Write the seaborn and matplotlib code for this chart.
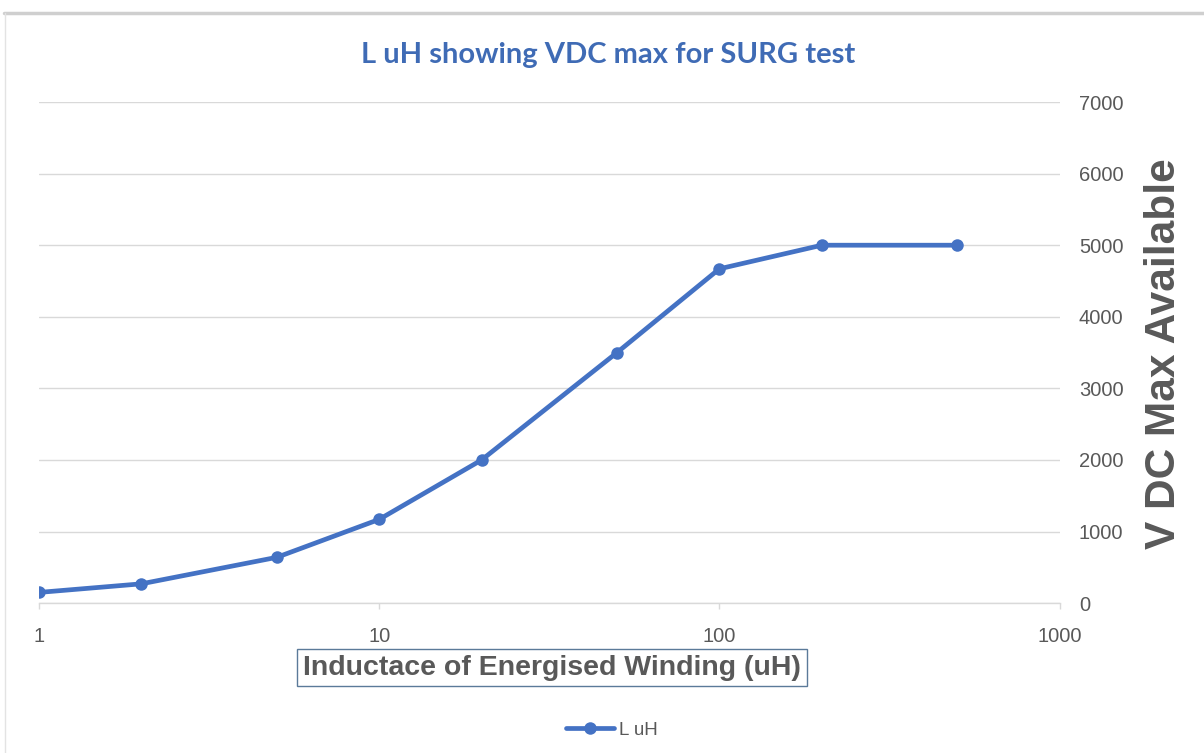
import matplotlib
matplotlib.use("Agg")
import matplotlib.pyplot as plt
from matplotlib.lines import Line2D
import seaborn as sns
import pandas as pd

# Inductance of the energised winding (uH) and the max VDC available
inductance_uh = [1, 2, 5, 10, 20, 50, 100, 200, 500]
vdc_max = [150, 270, 640, 1170, 2000, 3500, 4670, 5000, 5000]
y_ticks = [0, 1000, 2000, 3000, 4000, 5000, 6000, 7000]
x_ticks = [1, 10, 100, 1000]
x_tick_labels = ["1", "10", "100", "1000"]
series_name = "L uH"

df = pd.DataFrame({"L": inductance_uh, "V": vdc_max})

sns.set_theme(style="white")
plt.rcParams["font.family"] = ["Liberation Sans", "DejaVu Sans"]

LINE_BLUE = "#4472C4"
GRID = "#d9d9d9"
TEXT_GREY = "#595959"

fig = plt.figure(figsize=(12.04, 7.53), dpi=100)
ax = fig.add_axes([0.0324, 0.199, 0.8476, 0.6655])

sns.lineplot(data=df, x="L", y="V", ax=ax, color=LINE_BLUE, linewidth=3.4,
             marker="o", markersize=9, markeredgewidth=0, label=series_name,
             legend=False)

ax.set_xscale("log")
ax.set_xlim(1, 1000)
ax.set_ylim(0, 7000)
ax.set_xticks(x_ticks)
ax.set_xticklabels(x_tick_labels)
ax.minorticks_off()
ax.set_yticks(y_ticks)
ax.yaxis.tick_right()
ax.yaxis.grid(True, color=GRID, linewidth=1)
ax.xaxis.grid(False)

for side in ("top", "left", "right"):
    ax.spines[side].set_visible(False)
ax.spines["bottom"].set_color(GRID)
ax.spines["bottom"].set_linewidth(1)

ax.tick_params(axis="x", which="major", bottom=True, length=4, width=1,
               color=GRID, pad=13, labelsize=14.5, labelcolor=TEXT_GREY)
ax.tick_params(axis="y", which="major", right=False, left=False, length=0,
               pad=14, labelsize=14.5, labelcolor=TEXT_GREY)

ax.set_xlabel("")
ax.set_ylabel("")

# Title
fig.text(0.505, 0.927, "L uH showing VDC max for SURG test", ha="center",
         va="center", fontsize=21, fontweight="bold", color="#3F6BB5",
         family=["Lato", "DejaVu Sans"])

# Axis titles
fig.text(0.4585, 0.1135, "Inductace of Energised Winding (uH)", ha="center",
         va="center", fontsize=20.5, fontweight="bold", color=TEXT_GREY,
         bbox=dict(boxstyle="square,pad=0.2", facecolor="white",
                   edgecolor="#5B7A99", linewidth=1))
fig.text(0.9668, 0.5305, "V DC Max Available", ha="center", va="center",
         rotation=90, fontsize=30.5, fontweight="bold", color=TEXT_GREY)

# Legend below the chart
handle = Line2D([], [], color=LINE_BLUE, linewidth=3.4, marker="o",
                markersize=9, markeredgewidth=0)
fig.legend([handle], [series_name], loc="center", bbox_to_anchor=(0.508, 0.03),
           frameon=False, fontsize=13.5, labelcolor=TEXT_GREY, handlelength=2.6,
           handletextpad=0.25, markerscale=1)

# Thin frame along the top and left edges
fig.add_artist(Line2D([0.003, 1.0], [0.983, 0.983], transform=fig.transFigure,
                      color="#cfcfcf", linewidth=2.5))
fig.add_artist(Line2D([0.004, 0.004], [0.0, 0.983], transform=fig.transFigure,
                      color="#e3e3e3", linewidth=1))

fig.savefig("out.png", dpi=100, facecolor="white")
